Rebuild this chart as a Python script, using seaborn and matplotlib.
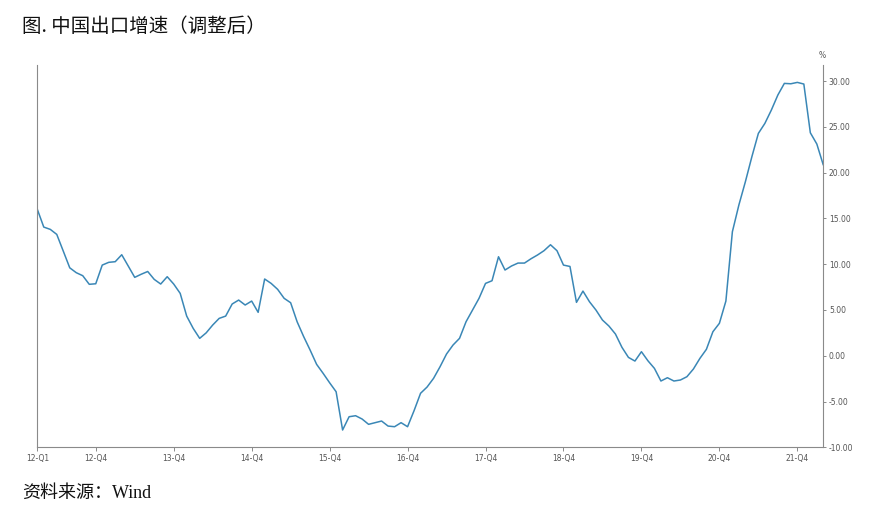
import numpy as np
import pandas as pd
import matplotlib
matplotlib.use("Agg")
import matplotlib.pyplot as plt
import seaborn as sns

# ------------------------------------ #
# China export growth (adjusted), %    #
# monthly, 2012-01 .. 2022-02          #
# ------------------------------------ #
export_growth = [
    16.0, 14.05, 13.8, 13.25, 11.43, 9.6, 9.07, 8.74, 7.8, 7.86,
    9.9, 10.2, 10.27, 11.03, 9.8, 8.56, 8.9, 9.2, 8.34, 7.83,
    8.63, 7.83, 6.81, 4.33, 2.99, 1.9, 2.5, 3.35, 4.08, 4.33,
    5.65, 6.08, 5.54, 5.97, 4.74, 8.38, 7.9, 7.25, 6.27, 5.79,
    3.71, 2.1, 0.62, -0.94, -1.92, -2.95, -3.93, -8.11, -6.66, -6.55,
    -6.91, -7.49, -7.31, -7.13, -7.68, -7.75, -7.31, -7.75, -6.0, -4.1,
    -3.42, -2.47, -1.2, 0.19, 1.17, 1.9, 3.71, 4.99, 6.27, 7.9,
    8.19, 10.81, 9.36, 9.8, 10.12, 10.12, 10.59, 11.0, 11.47, 12.12,
    11.47, 9.9, 9.75, 5.83, 7.06, 5.9, 4.99, 3.9, 3.24, 2.37,
    0.92, -0.18, -0.58, 0.44, -0.55, -1.38, -2.76, -2.4, -2.76, -2.65,
    -2.29, -1.45, -0.29, 0.7, 2.62, 3.54, 5.97, 13.54, 16.46, 19.0,
    21.73, 24.28, 25.37, 26.83, 28.47, 29.74, 29.7, 29.85, 29.67, 24.35,
    23.12, 20.82,
]
months = pd.date_range("2012-01-01", periods=len(export_growth), freq="MS").strftime("%Y-%m")

tick_months = ["2012-01", "2012-10", "2013-10", "2014-10", "2015-10", "2016-10",
               "2017-10", "2018-10", "2019-10", "2020-10", "2021-10"]
tick_labels = ["12-Q1", "12-Q4", "13-Q4", "14-Q4", "15-Q4", "16-Q4",
               "17-Q4", "18-Q4", "19-Q4", "20-Q4", "21-Q4"]
y_ticks = [-10, -5, 0, 5, 10, 15, 20, 25, 30]

df = pd.DataFrame({"month": months, "growth": export_growth})
df["pos"] = np.arange(len(df))

# ----- #
# style #
# ----- #
sns.set_style("white")
plt.rcParams["font.family"] = ["DejaVu Sans", "Noto Sans CJK SC"]

fig = plt.figure(figsize=(8.73, 5.31), dpi=100)
ax = fig.add_axes([0.0427, 0.1576, 0.9004, 0.72])

sns.lineplot(data=df, x="pos", y="growth", ax=ax, color="#3a87b6", linewidth=1.1)

ax.set_xlim(0, len(df) - 1)
ax.set_ylim(-10, 31.75)

grey = "#8a8a8a"
for side in ["left", "bottom", "right"]:
    ax.spines[side].set_visible(True)
    ax.spines[side].set_color(grey)
    ax.spines[side].set_linewidth(0.8)
ax.spines["top"].set_visible(False)

tick_pos = [int(np.where(months == m)[0][0]) for m in tick_months]
ax.set_xticks(tick_pos)
ax.set_xticklabels(tick_labels)

ax.yaxis.tick_right()
ax.set_yticks(y_ticks)
ax.set_yticklabels([f"{v:.2f}" for v in y_ticks])

ax.tick_params(axis="x", direction="out", length=3, width=0.7, color=grey,
               labelsize=5.5, labelcolor="#555555", pad=2, bottom=True)
ax.tick_params(axis="y", direction="out", length=2.5, width=0.7, color=grey,
               labelsize=5.5, labelcolor="#555555", pad=1.5, right=True, left=False)

ax.set_xlabel("")
ax.set_ylabel("")
ax.grid(False)

fig.text(0.942, 0.895, "%", fontsize=5.5, color="#555555", ha="center", va="center")

fig.text(0.025, 0.950, "图. 中国出口增速（调整后）", fontsize=14, ha="left", va="center",
         family=["Noto Sans CJK SC", "DejaVu Sans"], color="#111111")
fig.text(0.025, 0.070, "资料来源：Wind", fontsize=13, ha="left", va="center",
         family=["Liberation Serif", "Noto Sans CJK SC"], color="#111111")

plt.savefig("out.png", dpi=100)
